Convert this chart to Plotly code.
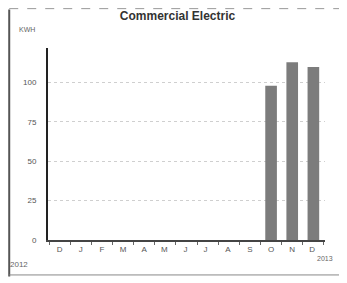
import plotly.graph_objects as go

months = ["D", "J", "F", "M", "A", "M ", "J ", "J  ", "A ", "S", "O", "N", "D "]
kwh = [0, 0, 0, 0, 0, 0, 0, 0, 0, 0, 98, 113, 110]
y_ticks = [0, 25, 50, 75, 100]
y_labels = ["0", "25", "50", "75", "100"]

fig = go.Figure()
fig.add_trace(go.Bar(
    x=months, y=kwh,
    marker=dict(color="#7c7c7c", line=dict(width=0)),
    width=0.55,
))

fig.update_layout(
    width=339, height=275,
    margin=dict(l=40, r=22, t=40, b=43),
    paper_bgcolor="white", plot_bgcolor="white",
    showlegend=False,
    font=dict(family="Liberation Sans, Arial, sans-serif", color="#555"),
    title=dict(text="<b>Commercial Electric</b>", x=0.5, xanchor="center",
               y=0.972, yanchor="middle", font=dict(size=12, color="#333")),
    xaxis=dict(
        type="category", range=[-0.55, 12.55],
        showline=True, linecolor="#444", linewidth=2,
        ticks="outside", ticklen=3, tickcolor="#666", tickson="boundaries",
        tickfont=dict(size=8, color="#555"),
        showgrid=False,
    ),
    yaxis=dict(
        range=[0, 122], tickvals=y_ticks, ticktext=y_labels,
        showline=True, linecolor="#222", linewidth=2,
        showgrid=True, gridcolor="#cfcfcf", griddash="dot", gridwidth=1,
        tickfont=dict(size=8, color="#555"), ticks="",
        ticklabelstandoff=8, zeroline=False,
    ),
    shapes=[
        dict(type="line", xref="paper", yref="paper", x0=-0.14, x1=-0.14, y0=-0.19, y1=1.2,
             line=dict(color="#555", width=2)),
        dict(type="line", xref="paper", yref="paper", x0=-0.14, x1=1.07, y0=-0.182, y1=-0.182,
             line=dict(color="#888", width=1)),
        dict(type="line", xref="paper", yref="paper", x0=-0.14, x1=1.07, y0=1.205, y1=1.205,
             line=dict(color="#999", width=1, dash="dash")),
    ],
)

fig.add_annotation(text="KWH", xref="paper", yref="paper", x=-0.112, y=1.094,
                   xanchor="left", yanchor="middle", showarrow=False,
                   font=dict(size=7, color="#666"))
fig.add_annotation(text="2012", xref="paper", yref="paper", x=-0.144, y=-0.13,
                   xanchor="left", yanchor="middle", showarrow=False,
                   font=dict(size=8, color="#666"))
fig.add_annotation(text="2013", xref="paper", yref="paper", x=1.036, y=-0.094,
                   xanchor="right", yanchor="middle", showarrow=False,
                   font=dict(size=7, color="#666"))

fig.write_html("out.html")
